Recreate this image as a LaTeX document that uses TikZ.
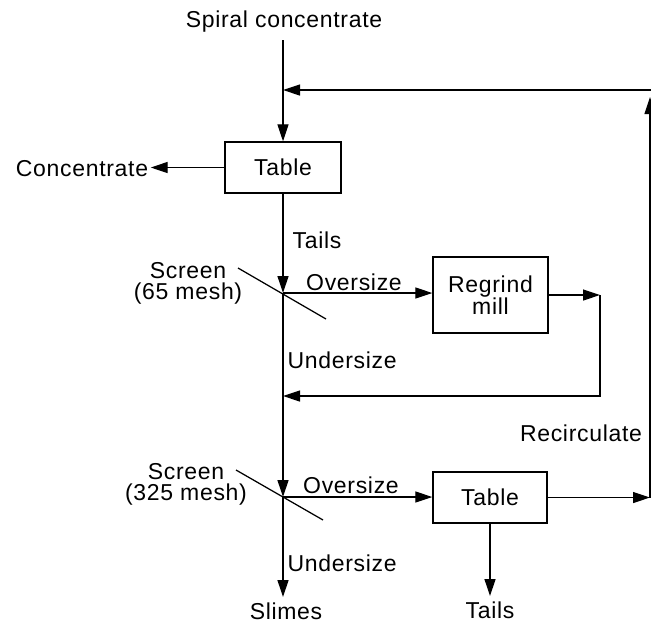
\documentclass[tikz,border=0pt]{standalone}
\usepackage{fontspec}
\setmainfont{Liberation Sans}[LetterSpace=3]
\usetikzlibrary{arrows.meta}
\begin{document}
\begin{tikzpicture}[x=1pt,y=-1pt,line width=1.25pt,
  lbl/.style={inner sep=0pt,font=\fontsize{23}{21}\selectfont},
  box/.style={draw,line width=1.4pt,inner sep=0pt,align=center,font=\fontsize{23}{22}\selectfont},
  flow/.style={-{Triangle[length=17pt,width=11pt]}}]
\useasboundingbox (0,0) rectangle (651,625);
% nodes
\node[lbl] (spiral) at (284,22) {Spiral concentrate};
\node[box,minimum width=116pt,minimum height=51pt] (t1) at (283,167.5) {Table};
\node[lbl,inner sep=2pt] (conc) at (82,169) {Concentrate};
\node[lbl,anchor=west] (tails1) at (292,240) {Tails};
\node[lbl,align=center] (scr1) at (188,283) {Screen\\(65 mesh)};
\node[lbl] (over1) at (354,282) {Oversize};
\node[box,minimum width=115pt,minimum height=76pt] (mill) at (490.5,295) {Regrind\\mill};
\node[lbl,anchor=west] (under1) at (287,360) {Undersize};
\node[lbl,align=center] (scr2) at (186,484) {Screen\\(325 mesh)};
\node[lbl] (over2) at (351,485) {Oversize};
\node[box,minimum width=114pt,minimum height=51pt] (t2) at (490,497.5) {Table};
\node[lbl] (recirc) at (581,433) {Recirculate};
\node[lbl,anchor=west] (under2) at (287,563) {Undersize};
\node[lbl] (slimes) at (286,611) {Slimes};
\node[lbl] (tails2) at (490,610) {Tails};
% coordinates
\coordinate (top) at (283,40);
\coordinate (fb) at (283,90);
\coordinate (redge) at (651,90);
\coordinate (rup) at (650,97);
\coordinate (rlow) at (650,497.5);
\coordinate (j1) at (283,293);
\coordinate (m1) at (600,295);
\coordinate (j1b) at (283,396);
\coordinate (j2) at (283,497);
\coordinate (slend) at (283,597);
\coordinate (t2end) at (490,596);
\coordinate (s1a) at (238,268);
\coordinate (s1b) at (326,319);
\coordinate (s2a) at (236,470);
\coordinate (s2b) at (323,520);
% connectors
\draw[flow] (top) -- (t1.north);
\draw[flow] (redge) -- (fb);
\draw[flow] (t1.west) -- (conc.east |- t1.west);
\draw[flow] (t1.south) -- (j1);
\draw (s1a) -- (s1b);
\draw[flow] (j1) -- (mill.west |- j1);
\draw[flow] (mill.east |- m1) -- (m1);
\draw[flow] (m1) |- (j1b);
\draw[flow] (j1) -- (j2);
\draw (s2a) -- (s2b);
\draw[flow] (j2) -- (t2.west |- j2);
\draw[flow] (t2.east) -- (rlow);
\draw[flow] (rlow) -- (rup);
\draw[flow] (j2) -- (slend);
\draw[flow] (t2.south) -- (t2end);
\end{tikzpicture}
\end{document}
